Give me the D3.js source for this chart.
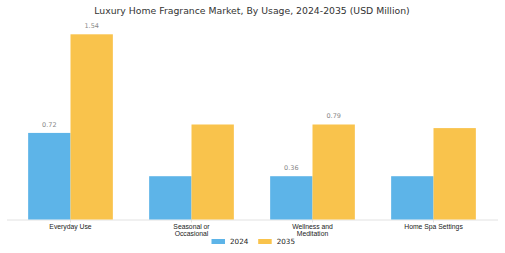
<!DOCTYPE html>
<html>
<head>
<meta charset="utf-8">
<script src="https://cdn.jsdelivr.net/npm/d3@7"></script>
<style>
  body { margin: 0; background: #fff; }
  svg { font-family: "DejaVu Sans", sans-serif; }
  .axis path, .axis line { stroke: #e2e2e2; }
  .axis text { fill: #222; font-size: 6.8px; }
  .valueText { fill: #888; font-size: 6.5px; }
</style>
</head>
<body>
<div id="chart"></div>
<script>
// data
var categories = ["Everyday Use", "Seasonal or\nOccasional", "Wellness and\nMeditation", "Home Spa Settings"];
var years = ["2024", "2035"];
var values2024 = [0.72, 0.36, 0.36, 0.36];
var values2035 = [1.54, 0.79, 0.79, 0.76];
// which bars carry a value label (the others are unlabelled in the original)
var labelled2024 = [true, false, true, false];
var labelled2035 = [true, false, true, false];

var colors = {"2024": "#5DB4E8", "2035": "#F9C34C"};

var width = 505, height = 253;
var baseline = 219.5;

var rows = categories.map(function(c, i) {
  return {cat: c, v2024: values2024[i], v2035: values2035[i], l2024: labelled2024[i], l2035: labelled2035[i]};
});

var svg = d3.select("#chart").append("svg")
  .attr("width", width)
  .attr("height", height);

// title - sized so it spans about 316px like the original
var title = svg.append("text")
  .attr("x", 252)
  .attr("y", 13.5)
  .attr("text-anchor", "middle")
  .style("font-size", "10px")
  .style("fill", "#333")
  .text("Luxury Home Fragrance Market, By Usage, 2024-2035 (USD Million)");
var tw = title.node().getComputedTextLength();
title.style("font-size", (10 * 316 / tw) + "px");

// scales
var x0 = d3.scaleBand()
  .domain(categories)
  .range([10, 494])
  .paddingInner(0.3)
  .paddingOuter(0.15);

var x1 = d3.scaleBand()
  .domain(years)
  .range([0, x0.bandwidth()]);

var y = d3.scaleLinear()
  .domain([0, 1.54])
  .range([baseline, 34.3]);

// baseline axis
var xAxis = d3.axisBottom(x0).tickSize(3).tickSizeOuter(0).tickFormat("");
svg.append("g")
  .attr("class", "x-axis axis")
  .attr("transform", "translate(0," + baseline + ")")
  .call(xAxis)
  .select(".domain").attr("d", "M7,0.5H498");

// tick labels, multi-line
svg.select(".x-axis").selectAll(".tick").each(function(d) {
  var t = d3.select(this).append("text")
    .attr("y", 9)
    .attr("text-anchor", "middle")
    .style("fill", "#222")
    .style("font-size", "6.8px");
  d.split("\n").forEach(function(line, i) {
    t.append("tspan").attr("x", 0).attr("dy", i === 0 ? 0 : 7.4).text(line);
  });
});

// bars
var groups = svg.selectAll(".group")
  .data(rows)
  .enter().append("g")
  .attr("class", "group")
  .attr("transform", function(d) { return "translate(" + x0(d.cat) + ",0)"; });

years.forEach(function(yr) {
  groups.append("rect")
    .attr("class", "bar")
    .attr("x", x1(yr))
    .attr("y", function(d) { return y(d["v" + yr]); })
    .attr("width", x1.bandwidth())
    .attr("height", function(d) { return baseline - y(d["v" + yr]); })
    .attr("fill", colors[yr]);

  groups.filter(function(d) { return d["l" + yr]; })
    .append("text")
    .attr("class", "valueText")
    .attr("x", x1(yr) + x1.bandwidth() / 2)
    .attr("y", function(d) { return y(d["v" + yr]) - 6; })
    .attr("text-anchor", "middle")
    .text(function(d) { return d3.format(".2f")(d["v" + yr]); });
});

// legend
var legend = svg.append("g").attr("transform", "translate(211.5,241.5)");
years.forEach(function(yr, i) {
  var g = legend.append("g").attr("transform", "translate(" + (i * 46.7) + ",0)");
  g.append("rect")
    .attr("x", 0).attr("y", -2.5)
    .attr("width", 13.5).attr("height", 5)
    .attr("fill", colors[yr]);
  g.append("text")
    .attr("x", 18.5).attr("y", 2.6)
    .style("font-size", "7.2px")
    .style("fill", "#222")
    .text(yr);
});
</script>
</body>
</html>
